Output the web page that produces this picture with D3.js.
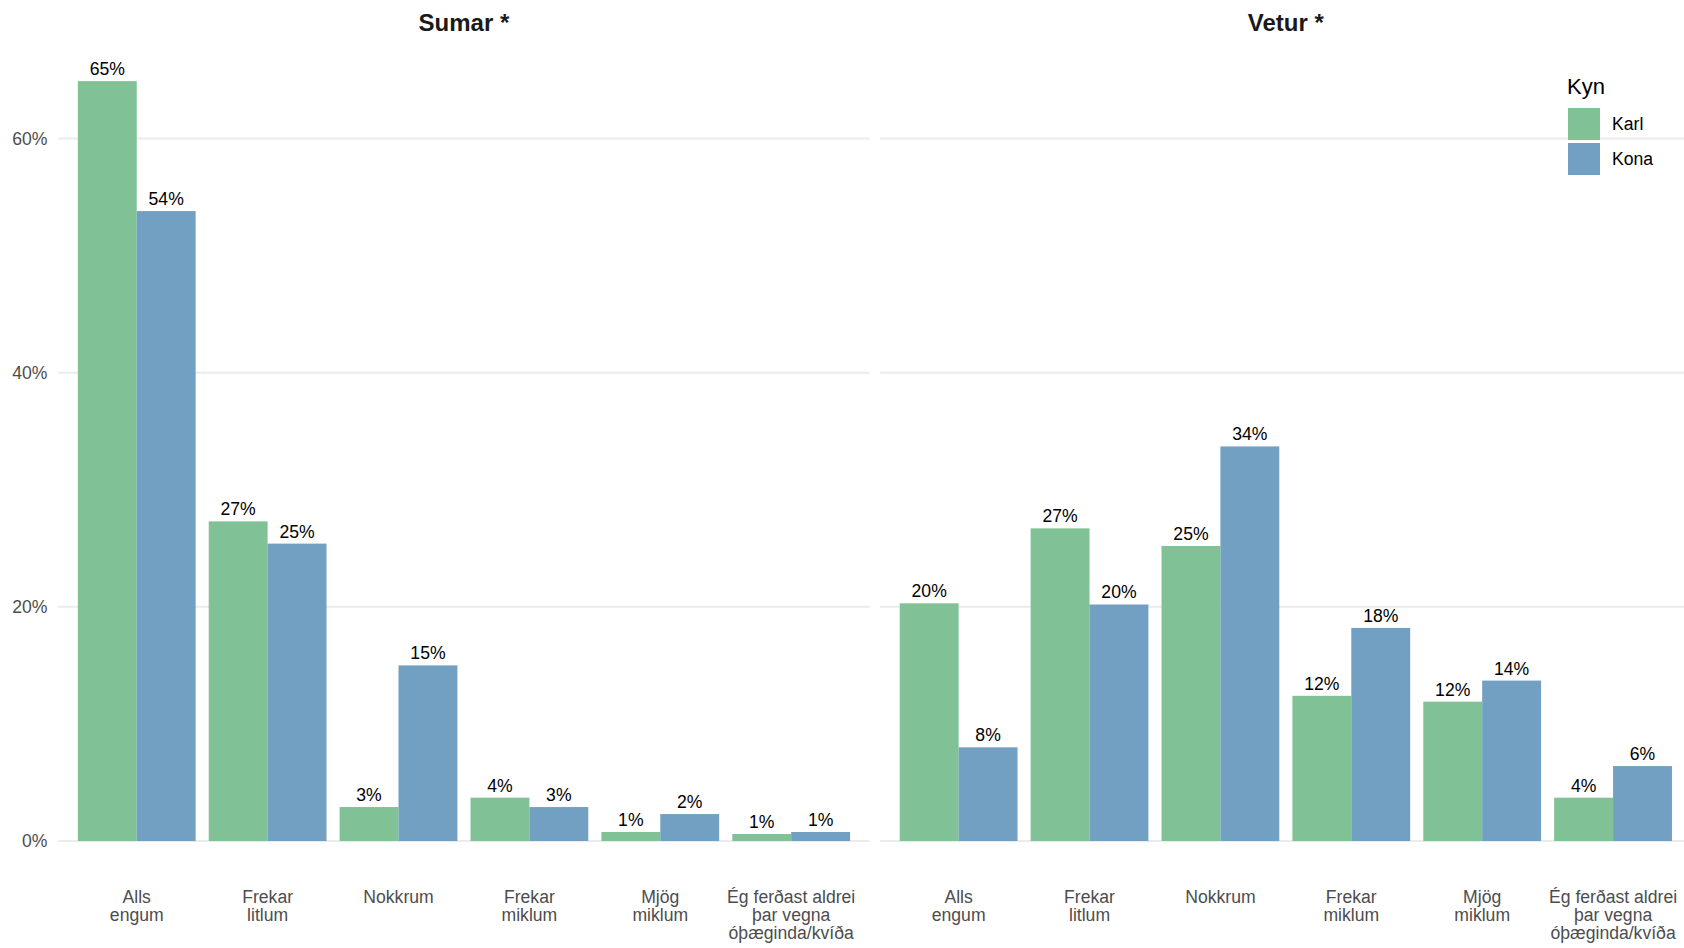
<!DOCTYPE html>
<html>
<head>
<meta charset="utf-8">
<script src="https://cdn.jsdelivr.net/npm/d3@7"></script>
<style>
  html, body { margin: 0; padding: 0; background: #fff; }
  svg { display: block; font-family: "Liberation Sans", Arial, Helvetica, sans-serif; }
</style>
</head>
<body>
<svg id="chart" width="1684" height="948"></svg>
<script>
// ---- data ----
const categories = ["Alls\nengum", "Frekar\nlitlum", "Nokkrum", "Frekar\nmiklum", "Mjög\nmiklum", "Ég ferðast aldrei\nþar vegna\nóþæginda/kvíða"];
const panels = ["Sumar *", "Vetur *"];
const seriesNames = ["Karl", "Kona"];
const legendTitle = "Kyn";
// values as fractions
const sumarKarl = [0.649, 0.273, 0.029, 0.037, 0.0077, 0.006];
const sumarKona = [0.538, 0.254, 0.150, 0.029, 0.023, 0.0077];
const veturKarl = [0.203, 0.267, 0.252, 0.124, 0.119, 0.037];
const veturKona = [0.080, 0.202, 0.337, 0.182, 0.137, 0.064];
const yTicks = [0, 0.2, 0.4, 0.6];
const colors = ["#80C296", "#71A0C2"];

const panelData = [
  { title: panels[0], series: [sumarKarl, sumarKona] },
  { title: panels[1], series: [veturKarl, veturKona] }
];

// ---- layout ----
const svg = d3.select("#chart");
const panelW = 811.5;
const panelLefts = [58.2, 880.1];
const y = d3.scaleLinear().domain([0, 0.6]).range([841, 138.5]);
const pct = d3.format(".0%");
const color = d3.scaleOrdinal().domain(seriesNames).range(colors);

panelData.forEach((p, pi) => {
  const x0 = panelLefts[pi];
  const x = d3.scaleBand().domain(categories).range([x0, x0 + panelW]).paddingInner(0).paddingOuter(0.1);
  const step = x.step();
  const xs = d3.scaleBand().domain(seriesNames).range([-0.45 * step, 0.45 * step]).padding(0);
  const g = svg.append("g");

  // gridlines
  g.selectAll("line.grid").data(yTicks).join("line")
    .attr("x1", x0).attr("x2", x0 + panelW)
    .attr("y1", d => y(d)).attr("y2", d => y(d))
    .attr("stroke", "#EBEBEB").attr("stroke-width", 2);

  // bars
  const rows = [];
  p.series.forEach((vals, si) => vals.forEach((v, ci) => rows.push({ cat: categories[ci], s: seriesNames[si], v })));
  const cx = d => x(d.cat) + step / 2 + xs(d.s);
  g.selectAll("rect.bar").data(rows).join("rect")
    .attr("x", d => cx(d))
    .attr("width", xs.bandwidth())
    .attr("y", d => y(d.v))
    .attr("height", d => y(0) - y(d.v))
    .attr("fill", d => color(d.s));

  // value labels
  g.selectAll("text.val").data(rows).join("text")
    .attr("x", d => cx(d) + xs.bandwidth() / 2)
    .attr("y", d => y(d.v) - 6)
    .attr("text-anchor", "middle")
    .attr("font-size", "17.6px")
    .attr("fill", "#000")
    .text(d => pct(d.v));

  // x axis labels
  const xl = g.selectAll("text.xl").data(categories).join("text")
    .attr("text-anchor", "middle")
    .attr("font-size", "17.6px")
    .attr("fill", "#4D4D4D")
    .attr("transform", d => `translate(${x(d) + step / 2},903)`);
  xl.selectAll("tspan").data(d => d.split("\n")).join("tspan")
    .attr("x", 0).attr("y", (d, i) => i * 18)
    .text(d => d);

  // panel title
  g.append("text")
    .attr("x", x0 + panelW / 2).attr("y", 31)
    .attr("text-anchor", "middle")
    .attr("font-size", "24px").attr("font-weight", "bold")
    .attr("fill", "#1A1A1A")
    .text(p.title);
});

// y axis tick labels
svg.append("g").selectAll("text").data(yTicks).join("text")
  .attr("x", 47.5).attr("y", d => y(d))
  .attr("dy", "0.35em")
  .attr("text-anchor", "end")
  .attr("font-size", "17.6px")
  .attr("fill", "#4D4D4D")
  .text(d => d3.format(".0%")(d));

// legend
const lg = svg.append("g");
lg.append("text").attr("x", 1567).attr("y", 94).attr("font-size", "22px").attr("fill", "#000").text(legendTitle);
const items = lg.selectAll("g.item").data(seriesNames).join("g")
  .attr("transform", (d, i) => `translate(1568,${108 + i * 35})`);
items.append("rect").attr("width", 32).attr("height", 32).attr("fill", d => color(d));
items.append("text").attr("x", 44).attr("y", 16).attr("dy", "0.35em")
  .attr("font-size", "17.6px").attr("fill", "#000").text(d => d);
</script>
</body>
</html>
